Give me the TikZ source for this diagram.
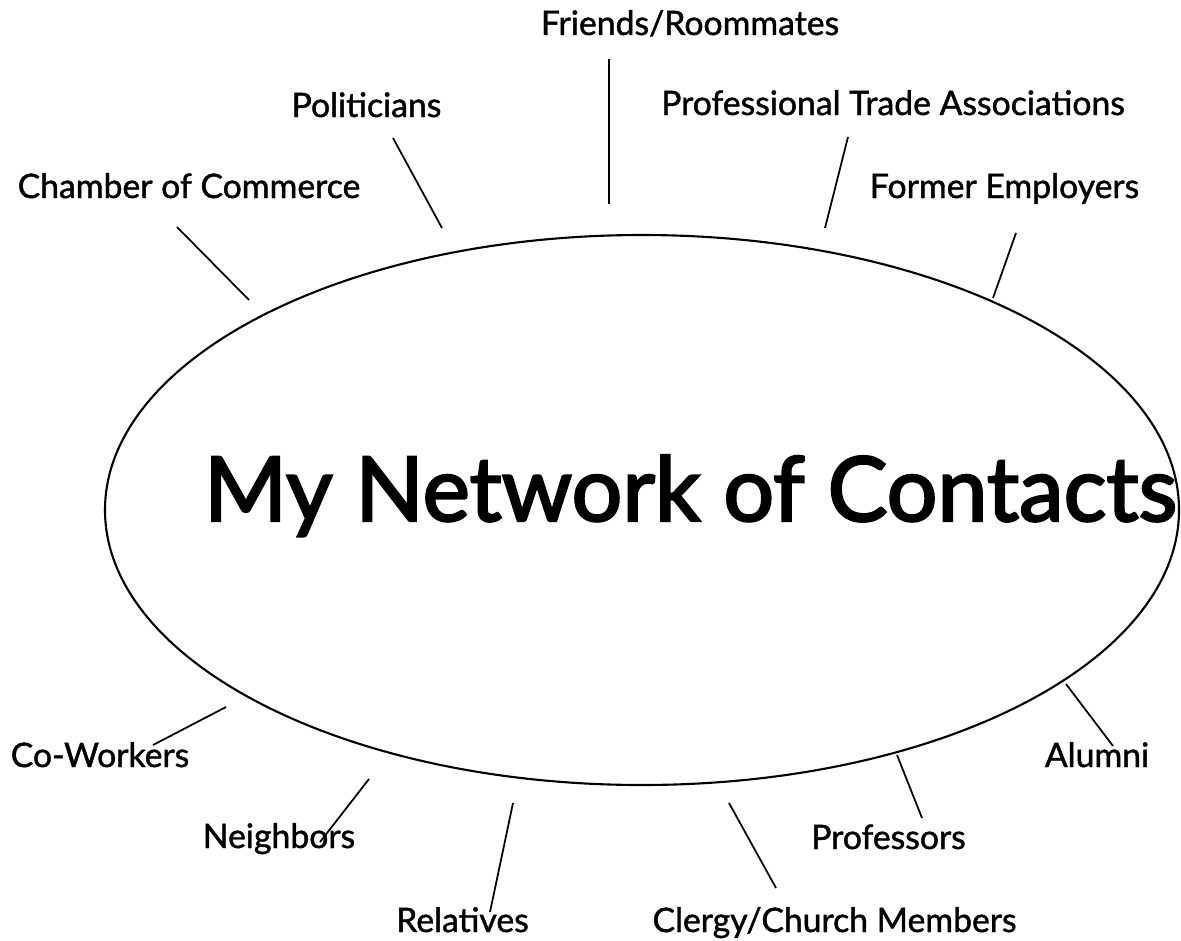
\documentclass[tikz,border=0pt]{standalone}
\usepackage{fontspec}
\setmainfont{Lato}
\newfontfamily\heavyfont{Lato}[FakeBold=1.3]
\newfontfamily\titlefont{Lato}[FakeBold=2.6]
\usetikzlibrary{shapes.geometric}

\tikzset{
  contact/.style={anchor=base, inner sep=0pt, font=\heavyfont\fontsize{9.6}{11}\selectfont},
  spoke/.style={line width=0.5pt},
  bubble/.style={draw, ellipse, line width=0.6pt, inner sep=0pt,
    minimum width=10.74cm, minimum height=5.50cm}
}

\begin{document}
\begin{tikzpicture}
        \useasboundingbox (0,0) rectangle (11.81,9.40);
        \node[bubble] (net) at (6.42,4.30) {};
        \node[anchor=base, inner sep=0pt, font=\titlefont\fontsize{25.5}{30}\selectfont] (title) at (6.905,4.19) {My Network of Contacts};

        \node[contact] (friends) at (6.90,9.05) {Friends/Roommates};
        \node[contact] (politicians) at (3.665,8.23) {Politicians};
        \node[contact] (professional) at (8.93,8.25) {Professional Trade Associations};
        \node[contact] (chamber) at (1.89,7.42) {Chamber of Commerce};
        \node[contact] (former) at (10.045,7.42) {Former Employers};
        \node[contact] (coworkers) at (1.00,1.73) {Co-Workers};
        \node[contact] (alumni) at (10.97,1.73) {Alumni};
        \node[contact] (neighbors) at (2.79,0.92) {Neighbors};
        \node[contact] (professors) at (8.885,0.91) {Professors};
        \node[contact] (relatives) at (4.625,0.08) {Relatives};
        \node[contact] (clergy) at (8.345,0.08) {Clergy/Church Members};

        % outer and inner ends of the spokes
        \coordinate (chamber-out) at (1.77,7.13);
        \coordinate (chamber-in) at (2.49,6.40);
        \coordinate (politicians-out) at (3.93,8.02);
        \coordinate (politicians-in) at (4.42,7.12);
        \coordinate (friends-out) at (6.09,8.81);
        \coordinate (friends-in) at (6.09,7.36);
        \coordinate (professional-out) at (8.48,8.03);
        \coordinate (professional-in) at (8.25,7.12);
        \coordinate (former-out) at (10.16,7.07);
        \coordinate (former-in) at (9.93,6.42);
        \coordinate (alumni-out) at (11.13,1.94);
        \coordinate (alumni-in) at (10.66,2.56);
        \coordinate (professors-out) at (9.22,1.22);
        \coordinate (professors-in) at (8.97,1.85);
        \coordinate (clergy-out) at (7.76,0.52);
        \coordinate (clergy-in) at (7.29,1.37);
        \coordinate (relatives-out) at (4.90,0.28);
        \coordinate (relatives-in) at (5.13,1.37);
        \coordinate (neighbors-out) at (3.20,0.98);
        \coordinate (neighbors-in) at (3.69,1.61);
        \coordinate (coworkers-out) at (1.53,1.95);
        \coordinate (coworkers-in) at (2.26,2.33);

        \draw[spoke] (chamber-out)--(chamber-in);
        \draw[spoke] (politicians-out)--(politicians-in);
        \draw[spoke] (friends-out)--(friends-in);
        \draw[spoke] (professional-out)--(professional-in);
        \draw[spoke] (former-out)--(former-in);
        \draw[spoke] (alumni-out)--(alumni-in);
        \draw[spoke] (professors-out)--(professors-in);
        \draw[spoke] (clergy-out)--(clergy-in);
        \draw[spoke] (relatives-out)--(relatives-in);
        \draw[spoke] (neighbors-out)--(neighbors-in);
        \draw[spoke] (coworkers-out)--(coworkers-in);
\end{tikzpicture}
\end{document}
